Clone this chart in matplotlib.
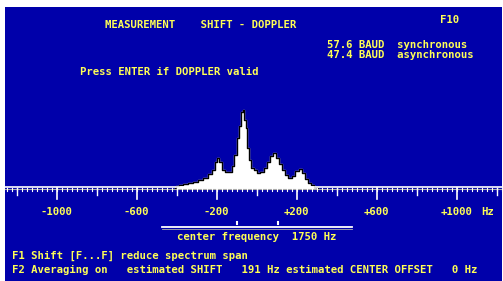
import matplotlib
matplotlib.use("Agg")
import matplotlib.pyplot as plt
from matplotlib.patches import Rectangle

# ---- data ----
freq_hz = [-407, -397, -382, -357, -332, -307, -282, -257, -232, -217, -202, -192,
           -182, -167, -152, -132, -117, -107, -92, -82, -72, -65, -57, -52, -42,
           -32, -22, -7, 8, 28, 43, 58, 73, 88, 103, 118, 133, 148, 168, 183, 203,
           218, 233, 248, 263, 278, 293, 308]
level = [0, 2, 3, 4, 5, 6, 8, 10, 14, 18, 26, 30,
         26, 18, 16, 16, 22, 33, 50, 62, 76, 78, 68, 60, 40,
         28, 20, 18, 15, 16, 20, 26, 32, 35, 30, 24, 18, 13, 10, 12, 17,
         19, 15, 9, 5, 3, 1, 0]
major_ticks = [-1000, -600, -200, 200, 600, 1000]
major_labels = ["-1000", "-600", "-200", "+200", "+600", "+1000"]
medium_ticks = [-1200, -800, -400, 0, 400, 800, 1200]
minor_step = 25

W, H = 503, 281
BLUE = "#0000AA"
YEL = "#FFFF55"

fig = plt.figure(figsize=(W / 100, H / 100), dpi=100)
fig.patch.set_facecolor("white")
fig.patches.append(Rectangle((5 / W, 0), (502 - 5) / W, (H - 7) / H,
                             transform=fig.transFigure, facecolor=BLUE,
                             edgecolor="none", zorder=-10))

ax = fig.add_axes([0, 0, 1, 1])
ax.set_zorder(5)
ax.set_facecolor("none")
x0 = 256.5
ax.set_xlim((0 - x0) * 5, (W - x0) * 5)
ax.set_ylim(-(H - 188), 188)
ax.axis("off")

# spectrum
ax.fill_between(freq_hz, 0, level, color="white", step="mid", zorder=3)
ax.step(freq_hz, level, where="mid", color="black", lw=1.0, zorder=4)

# axis line
ax.plot([(5 - x0) * 5, (502 - x0) * 5], [0.6, 0.6], color="white", lw=1.2, zorder=5)
ax.plot([(5 - x0) * 5, (502 - x0) * 5], [-1.0, -1.0], color="#AAAAAA", lw=0.8, zorder=5)

# ticks
for f in range(-1250, 1251, minor_step):
    ax.plot([f, f], [0, -3], color="white", lw=0.8, zorder=5)
for f in medium_ticks:
    ax.plot([f, f], [0, -7], color="white", lw=1.0, zorder=5)
for f in major_ticks:
    ax.plot([f, f], [0, -11], color="white", lw=1.2, zorder=5)

fp = dict(family="DejaVu Sans Mono", fontweight="bold", color=YEL, fontsize=7.7)

for f, lab in zip(major_ticks, major_labels):
    ax.text(f, -24, lab, ha="center", va="center", **fp)
ax.text((488 - x0) * 5, -24, "Hz", ha="center", va="center", **fp)

# span bracket
ax.plot([(162 - x0) * 5, (352 - x0) * 5], [-39, -39], color="white", lw=1.3)
ax.plot([(162 - x0) * 5, (352 - x0) * 5], [-40.5, -40.5], color="#AAAAAA", lw=0.6)
for xm in (237, 278):
    ax.plot([(xm - x0) * 5, (xm - x0) * 5], [-34, -35.5], color="white", lw=1.5)
ax.text(0, -49, "center frequency  1750 Hz", ha="center", va="center", **fp)


def ftext(xp, yp, s, ha="left"):
    fig.text(xp / W, 1 - yp / H, s, ha=ha, va="center", zorder=6, **fp)


ftext(105, 25, "MEASUREMENT    SHIFT - DOPPLER")
ftext(440, 20, "F10")
ftext(327, 45, "57.6 BAUD  synchronous")
ftext(327, 55, "47.4 BAUD  asynchronous")
ftext(80, 72, "Press ENTER if DOPPLER valid")
ftext(12, 256, "F1 Shift [F...F] reduce spectrum span")
ftext(12, 270, "F2 Averaging on   estimated SHIFT   191 Hz estimated CENTER OFFSET   0 Hz")

fig.savefig("out.png", dpi=100, facecolor=fig.get_facecolor())
